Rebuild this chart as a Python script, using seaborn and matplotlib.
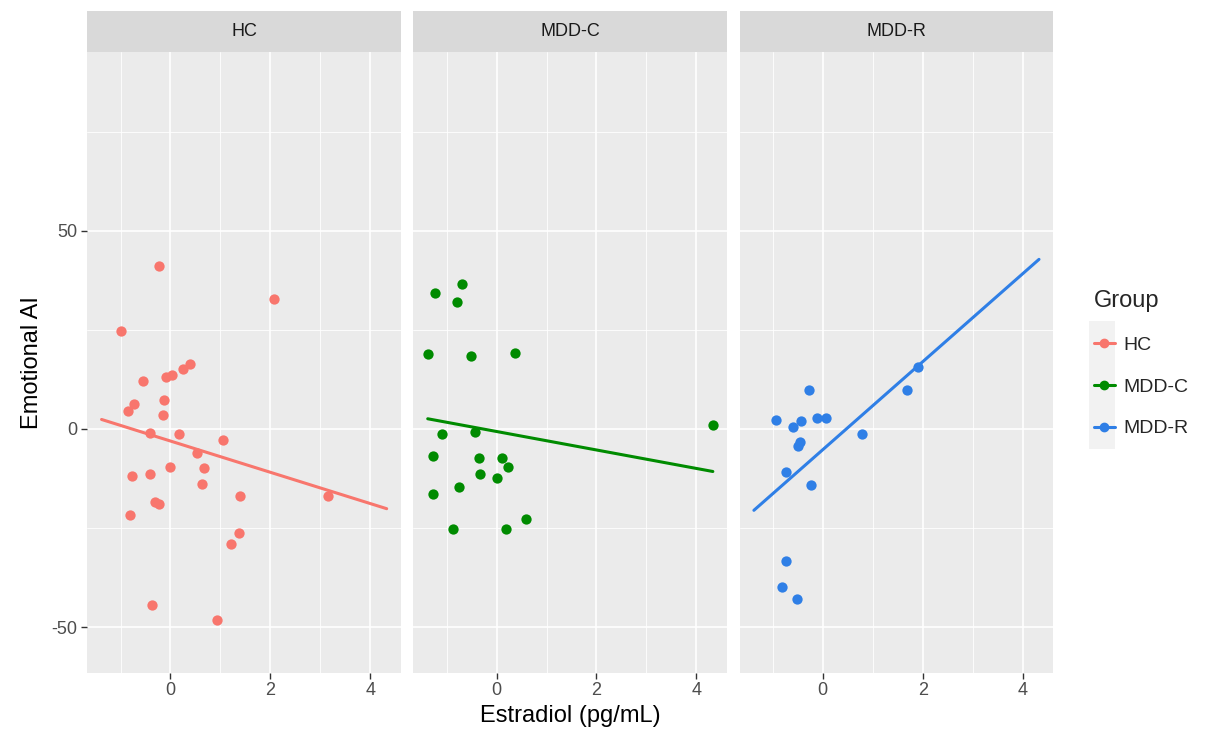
import numpy as np
import pandas as pd
import matplotlib.pyplot as plt
import seaborn as sns
from matplotlib.lines import Line2D
from matplotlib.patches import Rectangle

# Values
groups = ['HC', 'MDD-C', 'MDD-R']
colors = ['#F8766D', '#008B00', '#2F7FE6']

hc_x = [-0.23, 2.08, -0.99, -0.55, -0.09, 0.03, 0.25, 0.40, -0.73, -0.85,
        -0.12, -0.15, -0.40, 0.17, 1.06, 0.54, -0.77, -0.41, -0.01, 0.68,
        0.64, -0.30, -0.23, -0.81, 1.39, 3.16, 1.37, 1.21, -0.37, 0.93]
hc_y = [41.1, 32.8, 24.7, 12.2, 13.0, 13.6, 15.0, 16.3, 6.3, 4.5,
        7.2, 3.5, -1.1, -1.4, -2.9, -6.1, -12.0, -11.5, -9.7, -9.8,
        -13.9, -18.4, -18.9, -21.6, -17.0, -16.9, -26.3, -29.0, -44.5, -48.1]

mddc_x = [-0.69, -1.23, -0.80, -1.38, -0.51, 0.36, 4.33, -1.09, -0.44, -1.27,
          -0.36, 0.10, 0.22, -0.33, 0.00, -0.76, -1.27, 0.58, -0.87, 0.18]
mddc_y = [36.6, 34.4, 32.1, 18.8, 18.3, 19.2, 1.0, -1.3, -0.8, -6.8,
          -7.3, -7.3, -9.6, -11.4, -12.5, -14.6, -16.5, -22.8, -25.2, -25.2]

mddr_x = [-0.27, -0.94, -0.12, 0.07, -0.59, -0.44, -0.45, -0.49, 0.79, 1.69,
          1.90, -0.73, -0.23, -0.73, -0.81, -0.52]
mddr_y = [9.7, 2.3, 2.8, 2.8, 0.4, 1.9, -3.2, -4.2, -1.3, 9.7,
          15.7, -10.9, -14.1, -33.3, -39.8, -43.0]

df = pd.concat([
    pd.DataFrame({'Estradiol': hc_x, 'AI': hc_y, 'Group': 'HC'}),
    pd.DataFrame({'Estradiol': mddc_x, 'AI': mddc_y, 'Group': 'MDD-C'}),
    pd.DataFrame({'Estradiol': mddr_x, 'AI': mddr_y, 'Group': 'MDD-R'}),
], ignore_index=True)

sns.set_theme(style='darkgrid', rc={
    'axes.facecolor': '#EBEBEB',
    'grid.color': 'white',
    'xtick.bottom': True,
    'ytick.left': True,
    'xtick.color': '#333333',
    'ytick.color': '#333333',
    'xtick.major.size': 4,
    'ytick.major.size': 4,
    'xtick.major.width': 1,
    'ytick.major.width': 1,
    'axes.unicode_minus': False,
})
plt.rcParams['font.family'] = ['Liberation Sans', 'DejaVu Sans']

fig, axes = plt.subplots(1, 3, figsize=(12.28, 7.42), dpi=100, sharex=True, sharey=True)
fig.subplots_adjust(left=0.0711, right=0.8577, top=0.930, bottom=0.0934, wspace=0.04)

x_lo, x_hi = df['Estradiol'].min(), df['Estradiol'].max()
pad = 0.05 * (x_hi - x_lo)
strip_h = 41 / 620.7

for i, (ax, g, c) in enumerate(zip(axes, groups, colors)):
    sub = df[df['Group'] == g]
    ax.set_xlim(x_lo, x_hi)  # fullrange fit line spans the data range
    sns.regplot(data=sub, x='Estradiol', y='AI', ax=ax, ci=None, truncate=False,
                color=c, scatter_kws=dict(s=55, alpha=1, linewidths=0),
                line_kws=dict(lw=2.2))
    ax.set_xlim(x_lo - pad, x_hi + pad)
    ax.set_ylim(-61.5, 95.1)
    ax.set_xticks([0, 2, 4])
    ax.set_xticks([-1, 1, 3], minor=True)
    ax.set_yticks([-50, 0, 50])
    ax.set_yticks([-25, 25, 75], minor=True)
    ax.grid(which='major', color='white', lw=1.2)
    ax.grid(which='minor', color='white', lw=0.6)
    ax.tick_params(which='minor', length=0)
    ax.tick_params(labelsize=13, labelcolor='#4D4D4D', pad=3)
    if i > 0:
        ax.tick_params(axis='y', left=False)
    for s in ax.spines.values():
        s.set_visible(False)
    ax.set_xlabel('')
    ax.set_ylabel('')
    ax.add_patch(Rectangle((0, 1), 1, strip_h, transform=ax.transAxes,
                           facecolor='#D9D9D9', edgecolor='none', clip_on=False))
    ax.text(0.5, 1 + strip_h / 2, g, transform=ax.transAxes, ha='center',
            va='center', fontsize=13, color='#1A1A1A')

axes[0].set_ylabel('Emotional AI', fontsize=17, color='black', labelpad=6)
axes[1].set_xlabel('Estradiol (pg/mL)', fontsize=17, color='black', labelpad=4)

# legend with grey key backgrounds
fig.add_artist(Rectangle((1089 / 1228, 1 - 449 / 742), 26 / 1228, 128 / 742,
                         transform=fig.transFigure, facecolor='#F2F2F2',
                         edgecolor='none'))
handles = [Line2D([], [], color=c, marker='o', lw=2.2, markersize=6) for c in colors]
fig.legend(handles, groups, title='Group', loc='upper left',
           bbox_to_anchor=(1084 / 1228, 1 - 280 / 742), frameon=False,
           borderpad=0, handlelength=1.1, handletextpad=0.4,
           labelspacing=1.25, fontsize=14, title_fontsize=17,
           alignment='left')

plt.savefig('out.png', dpi=100)
